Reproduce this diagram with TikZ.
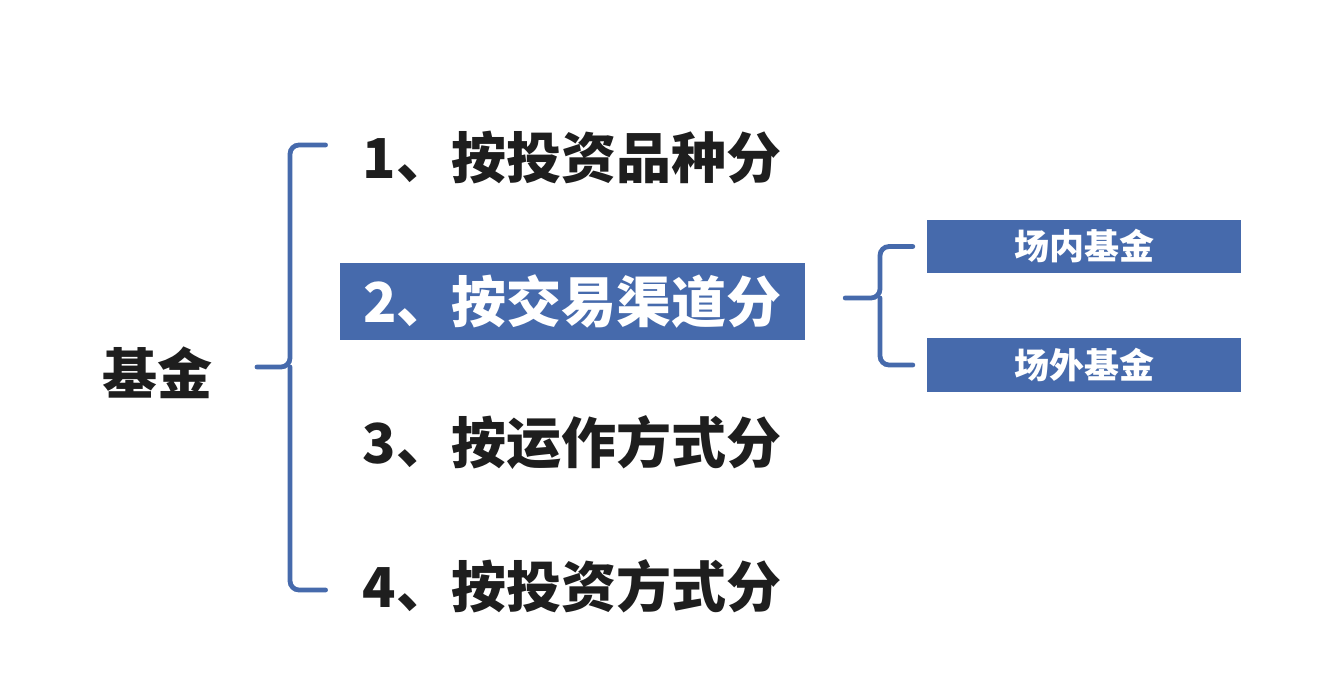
\documentclass[tikz,border=0pt]{standalone}
\usepackage{fontspec}
\newfontfamily\cjk{Noto Sans CJK SC}
\definecolor{fundblue}{RGB}{70,106,172}
\definecolor{txt}{RGB}{30,30,30}
\begin{document}
\begin{tikzpicture}[x=1pt,y=-1pt,
  bigtext/.style={font=\cjk\bfseries\fontsize{55}{60}\selectfont, text=txt, inner sep=0pt},
  itembox/.style={fill=fundblue, text=white, inner sep=0pt, font=\cjk\bfseries\fontsize{55}{60}\selectfont},
  subbox/.style={fill=fundblue, text=white, inner sep=0pt, font=\cjk\bfseries\fontsize{35}{40}\selectfont},
  brace/.style={draw=fundblue, line width=4.8pt, rounded corners=9pt, line cap=round}]
\useasboundingbox[fill=white] (0,0) rectangle (1318,698);
\node[bigtext] (root) at (157.5,373) {基金};
\node[bigtext] (i1) at (572,158) {1、按投资品种分};
\node[itembox, minimum width=465pt, minimum height=77pt] (i2) at (572.5,301.5) {2、按交易渠道分};
\node[bigtext] (i3) at (572,443) {3、按运作方式分};
\node[bigtext] (i4) at (572,586) {4、按投资方式分};
\node[subbox, minimum width=314pt, minimum height=53pt] (b1) at (1084,246.5) {场内基金};
\node[subbox, minimum width=314pt, minimum height=54pt] (b2) at (1084,365) {场外基金};
% big brace
\coordinate (bt) at (257,367);
\coordinate (bm) at (290,367);
\coordinate (a1) at ([xshift=-37pt]i1.west |- 0,145);
\coordinate (a4) at ([xshift=-37pt]i4.west |- 0,590);
\draw[brace] (bt) -- (bm) |- (a1);
\draw[brace] (bm) |- (a4);
% small brace
\coordinate (st) at ([xshift=40pt]i2.east |- 0,298);
\coordinate (sm) at (880,298);
\draw[brace] (st) -- (sm) |- ([xshift=-14pt]b1.west);
\draw[brace] (sm) |- ([xshift=-14pt]b2.west);
\end{tikzpicture}
\end{document}
